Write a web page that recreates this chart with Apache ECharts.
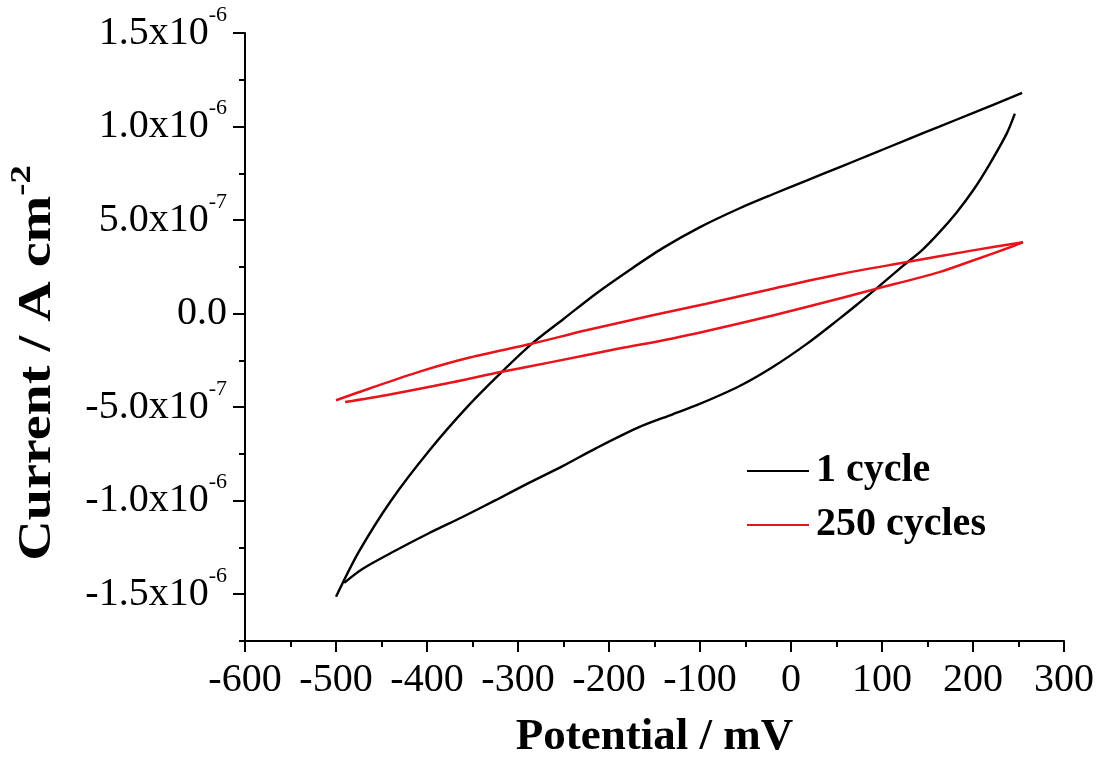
<!DOCTYPE html>
<html>
<head>
<meta charset="utf-8">
<title>Cyclic voltammetry</title>
<script src="https://cdn.jsdelivr.net/npm/echarts@6/dist/echarts.min.js"></script>
<style>
  html, body { margin: 0; padding: 0; background: #ffffff; }
  #chart { width: 1104px; height: 757px; }
</style>
</head>
<body>
<div id="chart"></div>
<script>
// Potential in mV, current density in A cm^-2

// 1 cycle: anodic sweep (-500 mV -> +254 mV)
const cycle1Forward = [
  [-500, -1.514e-6], [-475, -1.274e-6], [-439, -0.996e-6], [-397, -0.729e-6],
  [-356, -0.500e-6], [-318, -0.313e-6], [-284, -0.158e-6], [-249, -0.025e-6],
  [-214, 0.108e-6], [-178, 0.231e-6], [-141, 0.350e-6], [-101, 0.460e-6],
  [-57, 0.562e-6], [-20, 0.638e-6], [17, 0.711e-6], [53, 0.782e-6],
  [90, 0.855e-6], [127, 0.929e-6], [163, 1.0e-6], [199, 1.07e-6],
  [254, 1.18e-6]
];

// 1 cycle: cathodic sweep (+246 mV -> -491 mV)
const cycle1Reverse = [
  [246, 1.069e-6], [237, 0.962e-6], [218, 0.797e-6], [200, 0.658e-6],
  [182, 0.541e-6], [163, 0.434e-6], [145, 0.344e-6], [123, 0.255e-6],
  [94, 0.135e-6], [72, 0.046e-6], [53, -0.028e-6], [17, -0.163e-6],
  [-20, -0.285e-6], [-57, -0.388e-6], [-101, -0.484e-6], [-130, -0.538e-6],
  [-167, -0.607e-6], [-214, -0.719e-6], [-251, -0.815e-6], [-288, -0.905e-6],
  [-324, -0.996e-6], [-361, -1.087e-6], [-398, -1.174e-6], [-434, -1.265e-6],
  [-471, -1.365e-6], [-491, -1.439e-6]
];

// 250 cycles: anodic sweep
const cycle250Forward = [
  [-500, -0.463e-6], [-463, -0.400e-6], [-408, -0.310e-6], [-353, -0.235e-6],
  [-284, -0.160e-6], [-225, -0.089e-6], [-152, -0.009e-6], [-93, 0.053e-6],
  [-20, 0.133e-6], [53, 0.210e-6], [123, 0.272e-6], [200, 0.338e-6],
  [255, 0.382e-6]
];

// 250 cycles: cathodic sweep, starting from the vertex
const cycle250Reverse = [
  [255, 0.382e-6], [246, 0.364e-6], [200, 0.284e-6], [163, 0.222e-6],
  [94, 0.133e-6], [17, 0.035e-6], [-57, -0.053e-6], [-130, -0.133e-6],
  [-189, -0.187e-6], [-262, -0.258e-6], [-319, -0.312e-6], [-372, -0.367e-6],
  [-445, -0.436e-6], [-490, -0.472e-6]
];

const seriesNames = ['1 cycle', '250 cycles'];
const seriesColors = ['#000000', '#e8141c'];
const yMajorTicks = [-1.5e-6, -1.0e-6, -0.5e-6, 0, 0.5e-6, 1.0e-6, 1.5e-6];
const xRange = [-600, 300];
const yRange = [-1.75e-6, 1.5e-6];

const SERIF = '"Liberation Serif", "Times New Roman", serif';

// "1.5x10^-6" style label with a raised exponent
function sciLabel(v) {
  if (Math.abs(v) < 1e-15) return '{m|0.0}';
  const exp = Math.floor(Math.log10(Math.abs(v)) + 1e-9);
  const mant = v / Math.pow(10, exp);
  return '{m|' + mant.toFixed(1) + 'x10}{e|' + exp + '}';
}

function curve(name, data, color, width) {
  return {
    name: name, type: 'line', data: data,
    symbol: 'none', smooth: 0.3, yAxisIndex: 0,
    lineStyle: { color: color, width: width },
    itemStyle: { color: color },
    emphasis: { disabled: true }
  };
}

const chart = echarts.init(document.getElementById('chart'), null, { renderer: 'canvas' });

const blackLine = { color: '#000', width: 2 };

chart.setOption({
  animation: false,
  backgroundColor: '#ffffff',
  grid: {
    left: 245, right: 40, top: 33, bottom: 116,
    containLabel: false, outerBoundsMode: 'none'
  },
  legend: {
    data: seriesNames,
    orient: 'vertical',
    left: 742,
    top: 446,
    icon: 'rect',
    itemWidth: 62,
    itemHeight: 2,
    itemGap: 14,
    textStyle: {
      fontFamily: SERIF, fontSize: 40, fontWeight: 'bold', color: '#000',
      lineHeight: 40, padding: [0, 0, 0, 2]
    }
  },
  xAxis: {
    type: 'value',
    min: xRange[0],
    max: xRange[1],
    interval: 100,
    name: 'Potential / mV',
    nameLocation: 'middle',
    nameGap: 74,
    nameTextStyle: { fontFamily: SERIF, fontSize: 45, fontWeight: 'bold', color: '#000' },
    axisLine: { onZero: false, lineStyle: blackLine },
    axisTick: { show: true, length: 11, lineStyle: blackLine },
    minorTick: { show: true, splitNumber: 2, length: 6, lineStyle: blackLine },
    splitLine: { show: false },
    minorSplitLine: { show: false },
    axisLabel: {
      fontFamily: SERIF, fontSize: 40, color: '#000', margin: 19,
      formatter: v => String(v)
    }
  },
  yAxis: [
    {
      type: 'value',
      position: 'left',
      min: yRange[0],
      max: yRange[1],
      axisLine: { onZero: false, lineStyle: blackLine },
      axisTick: { show: true, length: 12, customValues: yMajorTicks, lineStyle: blackLine },
      splitLine: { show: false },
      axisLabel: {
        customValues: yMajorTicks,
        margin: 18,
        formatter: sciLabel,
        rich: {
          m: { fontFamily: SERIF, fontSize: 40, color: '#000', lineHeight: 58 },
          e: { fontFamily: SERIF, fontSize: 22, color: '#000', lineHeight: 22, verticalAlign: 'top' }
        }
      }
    },
    {
      // quarter-step minor ticks on the same left spine
      type: 'value',
      position: 'left',
      min: yRange[0],
      max: yRange[1],
      interval: 0.25e-6,
      axisLine: { show: false, onZero: false },
      axisTick: { show: true, length: 6, lineStyle: blackLine },
      axisLabel: { show: false },
      splitLine: { show: false }
    }
  ],
  graphic: [
    {
      type: 'text',
      x: 38,
      y: 363,
      rotation: Math.PI / 2,
      scaleX: 1.22,
      style: {
        text: '{a|Current / A cm}{s|-2}',
        align: 'center',
        verticalAlign: 'middle',
        rich: {
          a: { fontFamily: SERIF, fontSize: 46, fontWeight: 'bold', fill: '#000', lineHeight: 62 },
          s: { fontFamily: SERIF, fontSize: 30, fontWeight: 'bold', fill: '#000', lineHeight: 30, verticalAlign: 'top' }
        }
      }
    }
  ],
  series: [
    curve(seriesNames[0], cycle1Forward, seriesColors[0], 2.4),
    curve(seriesNames[0], cycle1Reverse, seriesColors[0], 2.4),
    curve(seriesNames[1], cycle250Forward, seriesColors[1], 2.5),
    curve(seriesNames[1], cycle250Reverse, seriesColors[1], 2.5)
  ]
});
</script>
</body>
</html>
